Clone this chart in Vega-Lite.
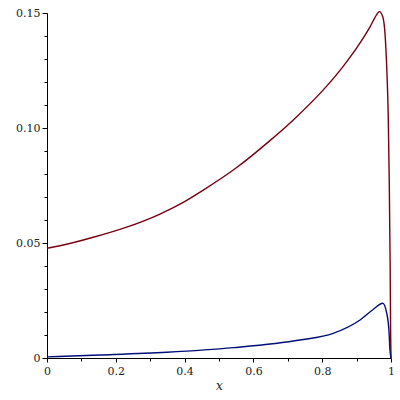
{
  "$schema": "https://vega.github.io/schema/vega-lite/v6.json",
  "autosize": "none",
  "width": 344,
  "height": 345,
  "padding": {"left": 47, "top": 13, "right": 9, "bottom": 42},
  "background": "white",
  "config": {"view": {"stroke": null}, "font": "DejaVu Serif"},
  "data": {"values": [
    {"s": "a", "x": 0, "y": 0.0477},
    {"s": "a", "x": 0.0378, "y": 0.0488},
    {"s": "a", "x": 0.1346, "y": 0.0525},
    {"s": "a", "x": 0.2317, "y": 0.0569},
    {"s": "a", "x": 0.3285, "y": 0.0626},
    {"s": "a", "x": 0.4, "y": 0.068},
    {"s": "a", "x": 0.4544, "y": 0.073},
    {"s": "a", "x": 0.5514, "y": 0.0828},
    {"s": "a", "x": 0.648, "y": 0.0945},
    {"s": "a", "x": 0.716, "y": 0.1035},
    {"s": "a", "x": 0.813, "y": 0.1182},
    {"s": "a", "x": 0.861, "y": 0.1268},
    {"s": "a", "x": 0.91, "y": 0.137},
    {"s": "a", "x": 0.939, "y": 0.144},
    {"s": "a", "x": 0.958, "y": 0.1492},
    {"s": "a", "x": 0.966, "y": 0.1506},
    {"s": "a", "x": 0.976, "y": 0.1484},
    {"s": "a", "x": 0.9826, "y": 0.141},
    {"s": "a", "x": 0.9875, "y": 0.1266},
    {"s": "a", "x": 0.992, "y": 0.105},
    {"s": "a", "x": 0.995, "y": 0.076},
    {"s": "a", "x": 0.9975, "y": 0.04},
    {"s": "a", "x": 0.999, "y": 0.01},
    {"s": "a", "x": 1, "y": 0},
    {"s": "b", "x": 0, "y": 0.0005},
    {"s": "b", "x": 0.154, "y": 0.0013},
    {"s": "b", "x": 0.348, "y": 0.0025},
    {"s": "b", "x": 0.542, "y": 0.0045},
    {"s": "b", "x": 0.735, "y": 0.0078},
    {"s": "b", "x": 0.832, "y": 0.0107},
    {"s": "b", "x": 0.91, "y": 0.0165},
    {"s": "b", "x": 0.949, "y": 0.0212},
    {"s": "b", "x": 0.976, "y": 0.0238},
    {"s": "b", "x": 0.9875, "y": 0.0195},
    {"s": "b", "x": 0.994, "y": 0.012},
    {"s": "b", "x": 0.997, "y": 0.0035},
    {"s": "b", "x": 1, "y": 0}
  ]},
  "mark": {"type": "line", "strokeWidth": 1.4, "interpolate": "monotone", "clip": false},
  "encoding": {
    "x": {
      "field": "x", "type": "quantitative",
      "scale": {"domain": [0, 1], "nice": false, "zero": false},
      "axis": {
        "title": "x",
        "titleFont": "DejaVu Serif", "titleFontStyle": "italic", "titleFontWeight": "normal",
        "titleFontSize": 12, "titleColor": "#222", "titlePadding": 4,
        "values": [0, 0.1, 0.2, 0.3, 0.4, 0.5, 0.6, 0.7, 0.8, 0.9, 1],
        "labelExpr": "round(datum.value*10)%2 ? '' : (datum.value==0 ? '0' : (datum.value==1 ? '1' : format(datum.value, '.1f')))",
        "labelFont": "DejaVu Serif", "labelFontSize": 11, "labelColor": "#222",
        "labelOverlap": false, "labelFlush": false, "labelPadding": 3,
        "tickSize": {"condition": {"test": "round(datum.value*10)%2==0", "value": 4}, "value": 3},
        "tickColor": "black", "domainColor": "black", "grid": false
      }
    },
    "y": {
      "field": "y", "type": "quantitative",
      "scale": {"domain": [0, 0.15], "nice": false},
      "axis": {
        "title": null,
        "values": [0, 0.01, 0.02, 0.03, 0.04, 0.05, 0.06, 0.07, 0.08, 0.09, 0.1, 0.11, 0.12, 0.13, 0.14, 0.15],
        "labelExpr": "round(datum.value*100)%5 ? '' : (datum.value==0 ? '0' : format(datum.value, '.2f'))",
        "labelFont": "DejaVu Serif", "labelFontSize": 11, "labelColor": "#222",
        "labelOverlap": false, "labelFlush": false, "labelPadding": 2,
        "tickSize": {"condition": {"test": "round(datum.value*100)%5==0", "value": 5}, "value": 3},
        "tickColor": "black", "domainColor": "black", "grid": false
      }
    },
    "color": {
      "field": "s", "type": "nominal",
      "scale": {"domain": ["a", "b"], "range": ["#78000E", "#000E78"]},
      "legend": null
    }
  }
}
